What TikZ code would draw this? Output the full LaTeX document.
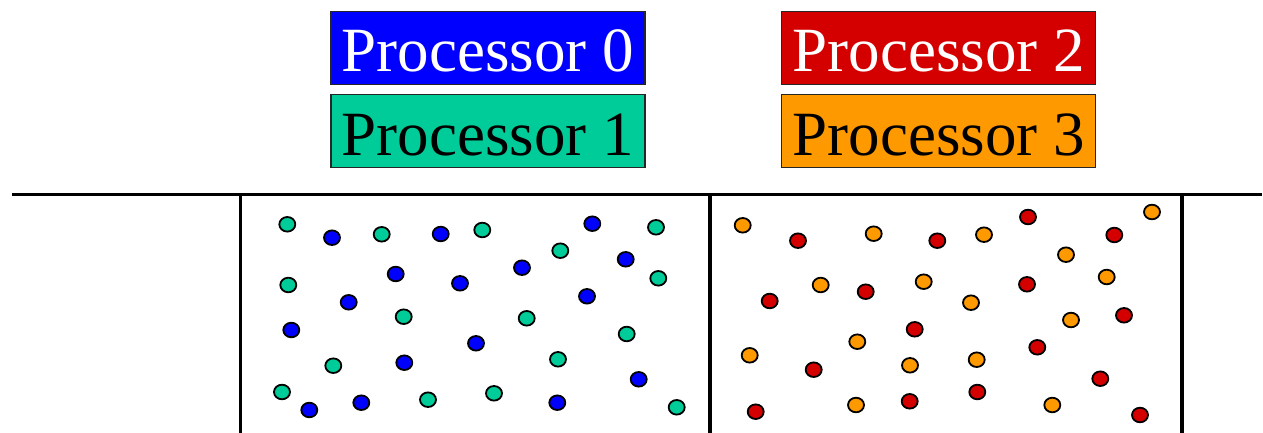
\documentclass[tikz,border=0pt]{standalone}
\usepackage{fontspec}
\setmainfont{Liberation Serif}
\usetikzlibrary{shapes.geometric}
\definecolor{pblue}{RGB}{0,0,255}
\definecolor{pteal}{RGB}{0,204,153}
\definecolor{pred}{RGB}{212,0,0}
\definecolor{porange}{RGB}{255,153,0}
\tikzset{
  procbox/.style={draw=black!85, line width=1.2pt, rectangle, inner sep=0pt,
    minimum width=314pt, minimum height=73pt, text height=48pt, text depth=0pt,
    font=\fontsize{63}{70}\selectfont},
  dotbase/.style={ellipse, draw=black, line width=1.8pt, inner sep=0pt,
    minimum width=16pt, minimum height=14.6pt},
  bdot/.style={dotbase, fill=pblue},
  tdot/.style={dotbase, fill=pteal},
  rdot/.style={dotbase, fill=pred},
  odot/.style={dotbase, fill=porange},
  wall/.style={line width=3.6pt, black}
}
\begin{document}
\begin{tikzpicture}[x=1pt,y=-1pt]
\useasboundingbox (0,0) rectangle (1263,433);
% legend
\node[procbox, fill=pblue, text=white] (p0) at (488,47.7) {Processor 0};
\node[procbox, fill=pteal, text=black] (p1) at (488,131.3) {Processor 1};
\node[procbox, fill=pred, text=white] (p2) at (938.7,47.7) {Processor 2};
\node[procbox, fill=porange, text=black] (p3) at (938.7,131.3) {Processor 3};
% walls
\coordinate (hl) at (12,194.4);
\coordinate (hr) at (1262,194.4);
\draw[wall] (hl) -- (hr);
\draw[wall] (240.5,194.4) -- (240.5,433);
\draw[wall] (710,194.4) -- (710,433);
\draw[wall] (1182,194.4) -- (1182,433);
% blue dots
\foreach \x/\y [count=\i] in {332/237.7, 440.7/234, 395.7/274, 460/283.3, 348.7/302.3, 291.3/330, 476/343.3, 404.3/362.7, 309.3/410, 361.3/402.7, 592.3/223.7, 522/267.7, 625.7/259.3, 587/296.3, 638.7/379.3, 557.3/402.7}
  \node[bdot] (b\i) at (\x,\y) {};
% teal dots
\foreach \x/\y [count=\i] in {287.3/224.3, 381.7/234.3, 482.3/230, 288.3/285, 403.7/316.7, 333.3/365.7, 282/392, 428/399.7, 656/227.3, 560.3/250.7, 658.3/278.3, 526.7/318.3, 626.7/334, 558/359.3, 494/393.3, 676.7/407.3}
  \node[tdot] (t\i) at (\x,\y) {};
% red dots
\foreach \x/\y [count=\i] in {798/240.7, 937.3/240.7, 865.7/291.7, 769.7/301, 914.7/329.3, 813.7/369.7, 755.7/411.7, 909.7/401.3, 1028/217, 1114.3/235, 1027/284.3, 1124/315.3, 1037.3/347.3, 1100.3/378.7, 977.3/392, 1140/415}
  \node[rdot] (r\i) at (\x,\y) {};
% orange dots
\foreach \x/\y [count=\i] in {742.7/225.3, 873.7/233.7, 820.7/285, 923.7/281.7, 857.3/341.7, 749.7/355.3, 910/365.3, 856/405, 1152/212, 984/234.7, 1066/254.7, 1106.7/277, 971/302.7, 1071/320, 976.7/359.7, 1052.3/405}
  \node[odot] (o\i) at (\x,\y) {};
\end{tikzpicture}
\end{document}
